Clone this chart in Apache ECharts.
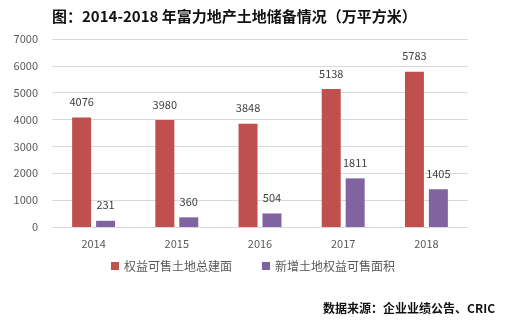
<!DOCTYPE html>
<html>
<head>
<meta charset="utf-8">
<script src="https://cdn.jsdelivr.net/npm/echarts@6/dist/echarts.min.js"></script>
<style>
  html, body { margin: 0; padding: 0; background: #fff; }
  #chart { width: 506px; height: 321px; }
</style>
</head>
<body>
<div id="chart"></div>
<script>
const years = ['2014', '2015', '2016', '2017', '2018'];
const saleableArea = [4076, 3980, 3848, 5138, 5783];
const newLandArea = [231, 360, 504, 1811, 1405];
const yTicks = [0, 1000, 2000, 3000, 4000, 5000, 6000, 7000];

const font = '"Microsoft YaHei", "Noto Sans CJK SC", sans-serif';
const chart = echarts.init(document.getElementById('chart'));

chart.setOption({
  animation: false,
  textStyle: { fontFamily: font },
  title: [
    {
      text: '图：2014-2018 年富力地产土地储备情况（万平方米）',
      left: 47,
      top: 4,
      textStyle: { fontSize: 15, fontWeight: 'bold', color: '#111', fontFamily: font }
    },
    {
      text: '数据来源：企业业绩公告、CRIC',
      right: 6,
      top: 297,
      textStyle: { fontSize: 12, fontWeight: 'bold', color: '#111', fontFamily: font }
    }
  ],
  legend: {
    bottom: 44,
    left: 'center',
    itemWidth: 8,
    itemHeight: 8,
    itemGap: 30,
    icon: 'rect',
    textStyle: { fontSize: 12, color: '#595959', fontFamily: font },
    data: ['权益可售土地总建面', '新增土地权益可售面积']
  },
  grid: { left: 52, right: 38, top: 39, bottom: 94, containLabel: false },
  xAxis: {
    type: 'category',
    data: years,
    axisLine: { lineStyle: { color: '#d9d9d9' } },
    axisTick: { show: false },
    axisLabel: { color: '#595959', fontSize: 11, margin: 11 }
  },
  yAxis: {
    type: 'value',
    min: yTicks[0],
    max: yTicks[yTicks.length - 1],
    interval: 1000,
    axisLine: { show: false },
    axisTick: { show: false },
    axisLabel: { color: '#595959', fontSize: 11, margin: 14, formatter: v => String(v) },
    splitLine: { lineStyle: { color: '#d9d9d9' } }
  },
  series: [
    {
      name: '权益可售土地总建面',
      type: 'bar',
      data: saleableArea,
      barWidth: 19,
      barGap: '26%',
      itemStyle: { color: '#C0504D' },
      label: { show: true, position: 'top', distance: 10, color: '#404040', fontSize: 11 }
    },
    {
      name: '新增土地权益可售面积',
      type: 'bar',
      data: newLandArea,
      barWidth: 19,
      itemStyle: { color: '#8064A2' },
      label: { show: true, position: 'top', distance: 10, color: '#404040', fontSize: 11 }
    }
  ]
});
</script>
</body>
</html>
